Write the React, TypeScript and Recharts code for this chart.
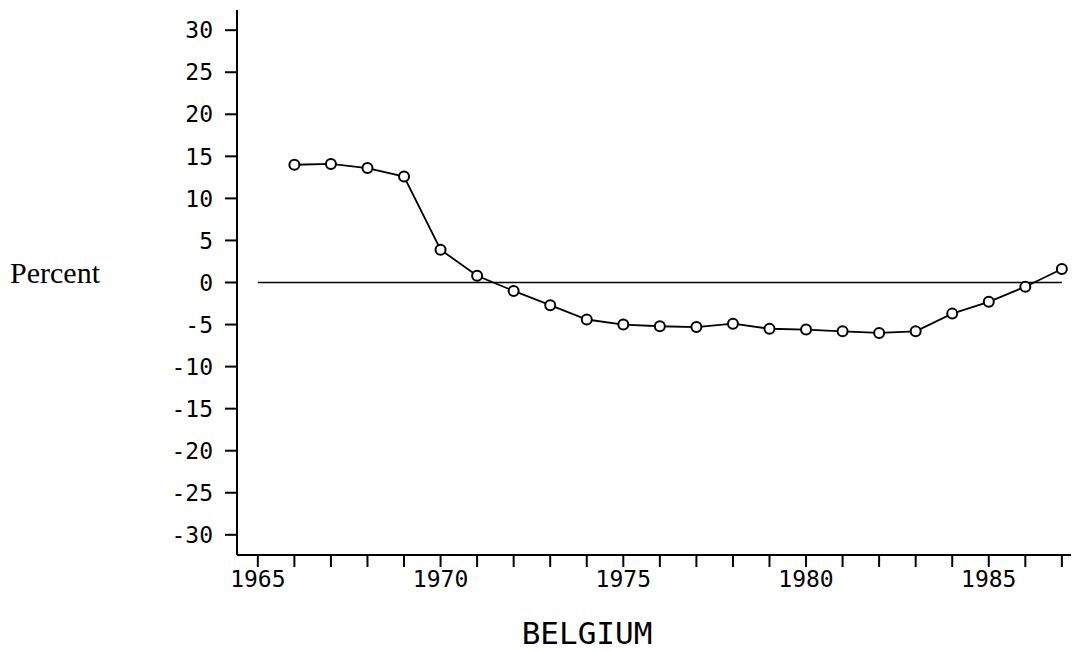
import {
  LineChart, Line, XAxis, YAxis, ReferenceLine,
} from 'recharts';

const years = [
  1966, 1967, 1968, 1969, 1970, 1971, 1972, 1973, 1974, 1975, 1976,
  1977, 1978, 1979, 1980, 1981, 1982, 1983, 1984, 1985, 1986, 1987,
];
const percent = [
  14.0, 14.1, 13.6, 12.6, 3.9, 0.8, -1.0, -2.7, -4.4, -5.0, -5.2,
  -5.3, -4.9, -5.5, -5.6, -5.8, -6.0, -5.8, -3.7, -2.3, -0.5, 1.6,
];
const xTicks = [
  1965, 1966, 1967, 1968, 1969, 1970, 1971, 1972, 1973, 1974, 1975, 1976,
  1977, 1978, 1979, 1980, 1981, 1982, 1983, 1984, 1985, 1986, 1987,
];
const yTicks = [-30, -25, -20, -15, -10, -5, 0, 5, 10, 15, 20, 25, 30];

const data = years.map((year, i) => ({ year, value: percent[i] }));

const tickFont = { fill: '#000', fontSize: 23, fontFamily: '"DejaVu Sans Mono", monospace' };
const axisStroke = { stroke: '#000', strokeWidth: 2 };

export default function App() {
  return (
    <div style={{ position: 'absolute', left: 0, top: 0, background: '#fff' }}>
      <LineChart
        width={1077}
        height={652}
        data={data}
        margin={{ top: 10, right: 6, left: 177, bottom: 0 }}
      >
        <XAxis
          dataKey="year"
          type="number"
          domain={[1964.43, 1987.25]}
          allowDataOverflow
          ticks={xTicks}
          interval={0}
          tickFormatter={(v: number) => (v % 5 === 0 ? String(v) : '')}
          tick={tickFont}
          tickSize={12}
          tickMargin={4}
          tickLine={{ stroke: '#000', strokeWidth: 2 }}
          axisLine={axisStroke}
          height={97}
          label={{
            value: 'BELGIUM',
            position: 'insideBottom',
            offset: 8,
            dx: -67,
            fill: '#000',
            fontSize: 31,
            fontFamily: '"DejaVu Sans Mono", monospace',
          }}
        />
        <YAxis
          type="number"
          domain={[-32.4, 32.4]}
          allowDataOverflow
          ticks={yTicks}
          interval={0}
          width={60}
          tickFormatter={(v: number) => (v < 0 ? '-' + Math.abs(v) : String(v))}
          tick={tickFont}
          tickSize={12}
          tickMargin={12}
          tickLine={{ stroke: '#000', strokeWidth: 2 }}
          axisLine={axisStroke}
          label={{
            value: 'Percent',
            position: 'left',
            offset: 77,
            dy: -10,
            fill: '#000',
            fontSize: 30,
            fontFamily: '"Liberation Serif", serif',
          }}
        />
        <ReferenceLine
          segment={[{ x: 1965, y: 0 }, { x: 1987, y: 0 }]}
          stroke="#000"
          strokeWidth={1.5}
        />
        <Line
          type="linear"
          dataKey="value"
          stroke="#000"
          strokeWidth={1.8}
          dot={{ r: 5, stroke: '#000', strokeWidth: 2, fill: '#fff' }}
          isAnimationActive={false}
        />
      </LineChart>
    </div>
  );
}
